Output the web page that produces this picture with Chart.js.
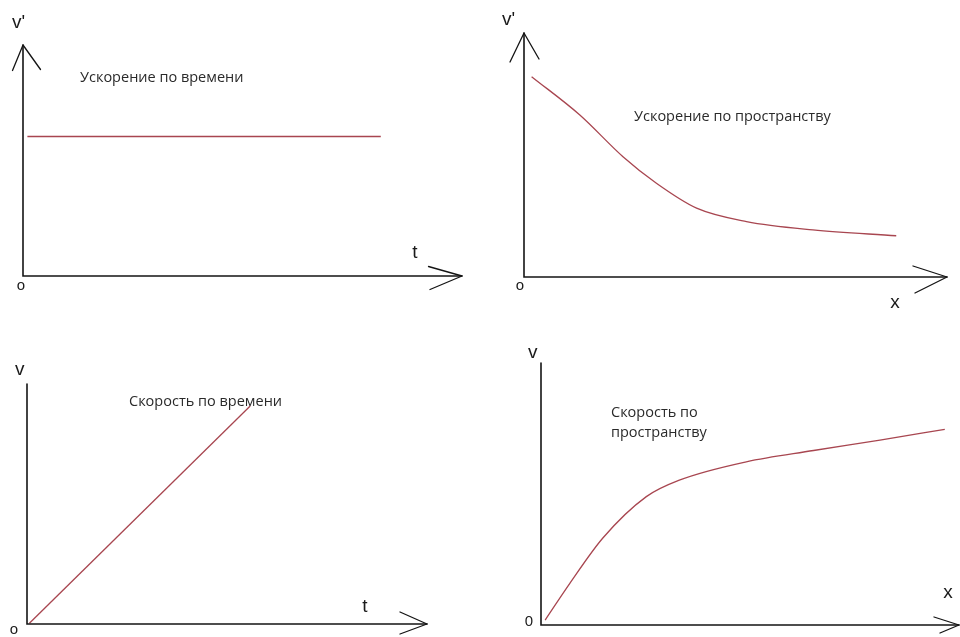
<!DOCTYPE html>
<html><head><meta charset="utf-8">
<script src="https://cdn.jsdelivr.net/npm/chart.js@4"></script>
<style>
html,body{margin:0;padding:0;background:#fff;width:960px;height:637px;overflow:hidden}
canvas{position:absolute;left:0;top:0}
</style></head>
<body>
<canvas id="c1" width="960" height="637"></canvas>
<canvas id="c2" width="960" height="637"></canvas>
<canvas id="c3" width="960" height="637"></canvas>
<canvas id="c4" width="960" height="637"></canvas>
<script>
// ---- data (arbitrary units, axes run 0..10) ----
const accelTimeX  = [0.1, 8.15];
const accelTimeY  = [6.04, 6.04];
const accelSpaceX = [0.18, 1.32, 2.34, 3.13, 4.08, 5.26, 6.83, 8.80];
const accelSpaceY = [8.21, 6.64, 4.93, 3.84, 2.82, 2.27, 1.93, 1.69];
const speedTimeX  = [0.06, 5.58];
const speedTimeY  = [0.03, 9.08];
const speedSpaceX = [0.10, 0.69, 1.48, 2.52, 3.31, 4.91, 6.52, 8.11, 9.66];
const speedSpaceY = [0.19, 1.59, 3.32, 4.90, 5.53, 6.23, 6.66, 7.06, 7.47];

const panelTitles  = [["Ускорение по времени"], ["Ускорение по пространству"], ["Скорость по времени"], ["Скорость по", "пространству"]];
const yAxisLabels  = ["v'", "v'", "v", "v"];
const xAxisLabels  = ["t", "x", "t", "x"];
const originLabels = ["o", "o", "o", "0"];

// ---- layout / style ----
const panels = [
  {id:'c1', xs:accelTimeX, ys:accelTimeY, area:{l:23,r:462,t:45,b:276}, tension:0,
   yWings:[[-10.5,25.5],[17.5,24.5]], xWings:[[-33.5,-9.5],[-32,13.5]],
   titlePos:[[80,82]], yLab:[12,28], xLab:[415,258], oLab:[21,286]},
  {id:'c2', xs:accelSpaceX, ys:accelSpaceY, area:{l:524,r:947,t:33,b:277}, tension:0.4,
   yWings:[[-14,29],[15,26]], xWings:[[-34,-11],[-32,16]],
   titlePos:[[634,121]], yLab:[502,25], xLab:[895,308], oLab:[520,286]},
  {id:'c3', xs:speedTimeX, ys:speedTimeY, area:{l:27,r:427,t:384,b:624}, tension:0,
   yWings:null, xWings:[[-27,-12],[-27,10]],
   titlePos:[[129,406]], yLab:[15,375], xLab:[365,612], oLab:[14,630]},
  {id:'c4', xs:speedSpaceX, ys:speedSpaceY, area:{l:541,r:959,t:363,b:625}, tension:0.4,
   yWings:null, xWings:[[-25,-8],[-19,8]],
   titlePos:[[611,417],[611,437]], yLab:[528,358], xLab:[948,598], oLab:[529,622]}
];

const W = 960, H = 637;

panels.forEach((p, i) => {
  const decor = {
    id: 'decor' + i,
    afterDraw(chart) {
      const ctx = chart.ctx;
      const a = chart.chartArea;
      ctx.save();
      ctx.strokeStyle = '#141414';
      ctx.lineWidth = 1.6;
      ctx.lineCap = 'round';
      ctx.beginPath();
      ctx.moveTo(a.left, a.top);
      ctx.lineTo(a.left, a.bottom);
      ctx.lineTo(a.right, a.bottom);
      ctx.stroke();
      ctx.lineWidth = 1.3;
      ctx.beginPath();
      p.xWings.forEach(w => { ctx.moveTo(a.right + w[0], a.bottom + w[1]); ctx.lineTo(a.right, a.bottom); });
      ctx.stroke();
      if (p.yWings) {
        ctx.beginPath();
        p.yWings.forEach(w => { ctx.moveTo(a.left + w[0], a.top + w[1]); ctx.lineTo(a.left, a.top); });
        ctx.stroke();
      }
      ctx.fillStyle = '#2a2a2a';
      ctx.font = '14.5px "Open Sans", "Noto Sans", sans-serif';
      ctx.textAlign = 'left';
      ctx.textBaseline = 'alphabetic';
      panelTitles[i].forEach((t, k) => ctx.fillText(t, p.titlePos[k][0], p.titlePos[k][1]));
      ctx.fillStyle = '#1a1a1a';
      ctx.font = '19px "Liberation Sans", Arial, sans-serif';
      ctx.textAlign = 'left';
      ctx.fillText(yAxisLabels[i], p.yLab[0], p.yLab[1]);
      ctx.textAlign = 'center';
      ctx.fillText(xAxisLabels[i], p.xLab[0], p.xLab[1]);
      ctx.font = '15px "Liberation Sans", Arial, sans-serif';
      ctx.textBaseline = 'middle';
      ctx.fillText(originLabels[i], p.oLab[0], p.oLab[1]);
      ctx.restore();
    }
  };
  new Chart(document.getElementById(p.id), {
    type: 'scatter',
    data: {
      datasets: [{
        data: p.xs.map((x, k) => ({x: x, y: p.ys[k]})),
        showLine: true,
        borderColor: '#a84650',
        borderWidth: 1.3,
        pointRadius: 0,
        tension: p.tension,
        cubicInterpolationMode: p.tension ? 'monotone' : 'default',
        fill: false
      }]
    },
    options: {
      responsive: false,
      animation: false,
      devicePixelRatio: 1,
      events: [],
      layout: { padding: { left: p.area.l, right: W - p.area.r, top: p.area.t, bottom: H - p.area.b } },
      plugins: { legend: { display: false }, tooltip: { enabled: false }, title: { display: false } },
      scales: {
        x: { type: 'linear', min: 0, max: 10, display: false },
        y: { type: 'linear', min: 0, max: 10, display: false }
      }
    },
    plugins: [decor]
  });
});
</script>
</body></html>
